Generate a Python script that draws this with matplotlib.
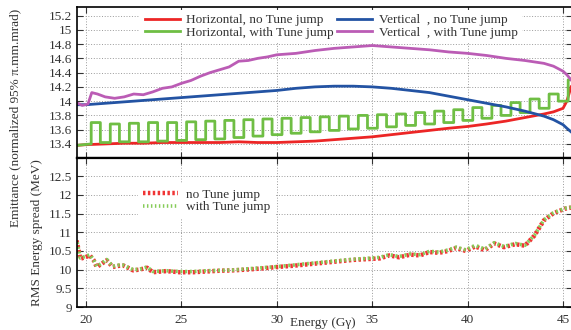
import matplotlib
matplotlib.use("Agg")
import matplotlib.pyplot as plt
from matplotlib.lines import Line2D

plt.rcParams['font.family'] = ['Liberation Serif', 'DejaVu Serif']
plt.rcParams['mathtext.fontset'] = 'stix'

# ---------------- data ----------------
# Horizontal, no tune jump
h_no_E = [19.5, 20, 21, 22, 23, 24, 25, 26, 27, 28, 29, 30, 31, 32, 33, 34, 35, 36,
          37, 38, 39, 40, 41, 42, 43, 44, 44.5, 45, 45.2, 45.42]
h_no_v = [13.38, 13.39, 13.40, 13.41, 13.41, 13.42, 13.42, 13.42, 13.42, 13.43, 13.42,
          13.42, 13.43, 13.44, 13.46, 13.48, 13.50, 13.53, 13.56, 13.59, 13.62, 13.645,
          13.68, 13.72, 13.77, 13.82, 13.85, 13.90, 14.00, 14.20]

# Vertical, no tune jump
v_no_E = [19.5, 20, 21, 22, 23, 24, 25, 26, 27, 28, 29, 30, 31, 32, 33, 34, 35, 36,
          37, 38, 39, 40, 41, 42, 43, 44, 44.5, 45, 45.2, 45.42]
v_no_v = [13.95, 13.95, 13.97, 13.99, 14.01, 14.03, 14.05, 14.07, 14.09, 14.11, 14.13,
          14.15, 14.18, 14.20, 14.21, 14.21, 14.20, 14.18, 14.15, 14.12, 14.07, 14.02,
          13.97, 13.92, 13.86, 13.79, 13.74, 13.67, 13.62, 13.57]

# Vertical, with tune jump
v_tj_E = [19.5, 19.8, 20.1, 20.3, 20.6, 21, 21.5, 22, 22.5, 23, 23.5, 24, 24.5, 25, 25.5,
          26, 26.5, 27, 27.5, 28, 28.5, 29, 29.5, 30, 31, 32, 33, 34, 35, 36, 37, 38, 39,
          40, 41, 42, 43, 44, 44.5, 45, 45.2, 45.42]
v_tj_v = [13.98, 13.94, 13.96, 14.12, 14.10, 14.06, 14.04, 14.06, 14.10, 14.09, 14.13,
          14.18, 14.20, 14.25, 14.29, 14.35, 14.40, 14.44, 14.48, 14.56, 14.57, 14.60,
          14.62, 14.65, 14.67, 14.71, 14.74, 14.76, 14.78, 14.76, 14.74, 14.72, 14.69,
          14.67, 14.64, 14.60, 14.57, 14.53, 14.49, 14.42, 14.37, 14.30]

# Horizontal, with tune jump: jump-on / jump-off energies and levels
tj_on = [20.27, 21.27, 22.27, 23.27, 24.27, 25.27, 26.27, 27.27, 28.27, 29.27, 30.27,
         31.27, 32.27, 33.27, 34.27, 35.27, 36.27, 37.27, 38.27, 39.27, 40.27, 41.27,
         42.27, 43.27, 44.27, 45.27]
tj_off = [20.75, 21.75, 22.75, 23.75, 24.75, 25.75, 26.75, 27.75, 28.75, 29.75, 30.75,
          31.75, 32.75, 33.75, 34.75, 35.75, 36.75, 37.75, 38.75, 39.75, 40.75, 41.75,
          42.75, 43.75, 44.75, 45.42]
h_tj_low = [13.40, 13.42, 13.43, 13.43, 13.44, 13.45, 13.46, 13.47, 13.49, 13.51, 13.53,
            13.55, 13.57, 13.59, 13.61, 13.62, 13.64, 13.66, 13.68, 13.70, 13.73, 13.76,
            13.80, 13.84, 13.90, 14.00]
h_tj_high = [13.70, 13.68, 13.69, 13.70, 13.70, 13.71, 13.72, 13.73, 13.74, 13.75, 13.76,
             13.77, 13.78, 13.79, 13.80, 13.81, 13.82, 13.84, 13.86, 13.88, 13.91, 13.94,
             13.98, 14.03, 14.10, 14.30]
h_tj_start = (19.5, 13.38)

# RMS energy spread
sp_E = [19.5, 19.6, 19.7, 19.95, 20.2, 20.4, 20.56, 20.8, 21.08, 21.4, 21.7, 21.95, 22.2,
        22.47, 22.8, 23.2, 23.5, 24.2, 24.9, 25.6, 26.3, 27, 27.7, 28.4, 29.2, 30, 30.8,
        31.6, 32.4, 33.2, 34, 34.7, 35.4, 35.9, 36.4, 37, 37.5, 38, 38.5, 39, 39.4, 39.9,
        40.4, 40.9, 41.4, 41.9, 42.5, 43, 43.5, 44, 44.5, 45.1, 45.42]
sp_no = [10.78, 10.55, 10.29, 10.33, 10.38, 10.25, 10.07, 10.15, 10.25, 10.07, 10.10,
         10.11, 10.05, 9.98, 10.00, 10.05, 9.93, 9.96, 9.93, 9.93, 9.95, 9.97, 9.98, 10.00,
         10.03, 10.07, 10.10, 10.14, 10.18, 10.22, 10.26, 10.28, 10.30, 10.38, 10.33,
         10.40, 10.38, 10.47, 10.45, 10.50, 10.58, 10.50, 10.62, 10.52, 10.70, 10.60,
         10.68, 10.64, 10.91, 11.32, 11.51, 11.63, 11.66]
sp_tj = [10.80, 10.56, 10.31, 10.35, 10.40, 10.26, 10.09, 10.16, 10.27, 10.09, 10.12,
         10.12, 10.06, 10.00, 10.01, 10.07, 9.95, 9.97, 9.95, 9.95, 9.97, 9.98, 9.99, 10.02,
         10.05, 10.08, 10.12, 10.16, 10.20, 10.24, 10.28, 10.30, 10.33, 10.40, 10.35,
         10.42, 10.40, 10.49, 10.47, 10.53, 10.60, 10.53, 10.65, 10.55, 10.72, 10.62,
         10.70, 10.65, 10.92, 11.33, 11.52, 11.64, 11.67]

yt_top = [13.4, 13.6, 13.8, 14.0, 14.2, 14.4, 14.6, 14.8, 15.0, 15.2]
yt_bot = [9, 9.5, 10, 10.5, 11, 11.5, 12, 12.5]
xt = [20, 25, 30, 35, 40, 45]

# ---------------- build green step line ----------------
gx = [h_tj_start[0]]
gy = [h_tj_start[1]]
for i in range(len(tj_on)):
    gx += [tj_on[i], tj_on[i], tj_off[i]]
    gy += [h_tj_low[i], h_tj_high[i], h_tj_high[i]]
    if i + 1 < len(tj_on):
        gx.append(tj_off[i])
        gy.append(h_tj_low[i + 1])

# ---------------- figure ----------------
W, H = 571, 330
fig = plt.figure(figsize=(W / 100, H / 100), dpi=100)

def px_box(x0, y0, x1, y1):
    return [x0 / W, 1 - y1 / H, (x1 - x0) / W, (y1 - y0) / H]

ax1 = fig.add_axes(px_box(76.7, 7, 572, 157.5))
ax2 = fig.add_axes(px_box(76.7, 157.5, 572, 307))

xlim = (19.51, 45.47)
c_red, c_blue, c_green, c_mag = '#ec2626', '#2353a3', '#6fbe44', '#bb5cb5'

grid_kw = dict(color='#9a9a9a', linestyle=(0, (1, 1.8)), linewidth=0.7)

for ax in (ax1, ax2):
    ax.set_xlim(*xlim)
    ax.set_xticks(xt)
    ax.grid(True, **grid_kw)
    ax.set_axisbelow(True)
    ax.tick_params(direction='in', top=True, right=True, length=4, width=0.8,
                   labelsize=9.5, colors='#333333', labelcolor='#333333')
    for s in ax.spines.values():
        s.set_linewidth(1.2)
        s.set_color('black')

ax1.set_ylim(13.21, 15.32)
ax1.set_yticks(yt_top)
ax1.set_yticklabels(['%g' % v for v in yt_top])
ax1.tick_params(labelbottom=False)
ax1.spines['bottom'].set_linewidth(1.6)

ax2.set_ylim(9, 13)
ax2.set_yticks(yt_bot + [13])
ax2.set_yticklabels(['%g' % v for v in yt_bot] + [''])
ax2.set_xticklabels([str(v) for v in xt])
ax2.tick_params(axis='x', pad=5)
ax2.spines['top'].set_linewidth(1.6)

lw = 2.0
l_red, = ax1.plot(h_no_E, h_no_v, color=c_red, lw=lw)
l_green, = ax1.plot(gx, gy, color=c_green, lw=lw)
l_blue, = ax1.plot(v_no_E, v_no_v, color=c_blue, lw=lw)
l_mag, = ax1.plot(v_tj_E, v_tj_v, color=c_mag, lw=lw)

leg1 = ax1.legend([l_red, l_green, l_blue, l_mag],
                  ['Horizontal, no Tune jump', 'Horizontal, with Tune jump',
                   'Vertical  , no Tune jump', 'Vertical  , with Tune jump'],
                  ncol=2, loc='upper left', bbox_to_anchor=(140 / W, 1 - 9.5 / H),
                  bbox_transform=fig.transFigure, borderaxespad=0, fontsize=9.5,
                  handlelength=2.65, handletextpad=0.5, columnspacing=0.25,
                  labelspacing=0.02, borderpad=0.35, frameon=True, fancybox=False,
                  facecolor='white', edgecolor='none', framealpha=1)
for t in leg1.get_texts():
    t.set_color('#333333')

l_sp1, = ax2.plot(sp_E, sp_no, color='#f03434', lw=3.2, linestyle=(0, (0.55, 0.55)))
l_sp2, = ax2.plot(sp_E, sp_tj, color='#86cc58', lw=2.6, linestyle=(0.55, (0.55, 0.75)))

h1 = Line2D([], [], color='#f03434', lw=3.2, linestyle=(0, (0.55, 0.55)))
h2 = Line2D([], [], color='#86cc58', lw=2.6, linestyle=(0, (0.4, 0.7)))
leg2 = ax2.legend([h1, h2], ['no Tune jump', 'with Tune jump'],
                  loc='upper left', bbox_to_anchor=(138 / W, 1 - 184 / H),
                  bbox_transform=fig.transFigure, borderaxespad=0, fontsize=9.5,
                  handlelength=2.7, handletextpad=0.6, labelspacing=0.02,
                  borderpad=0.35, frameon=True, fancybox=False,
                  facecolor='white', edgecolor='none', framealpha=1)
for t in leg2.get_texts():
    t.set_color('#333333')

fig.text(15 / W, 1 - 118 / H, 'Emittance (normalized 95% \u03c0.mm.mrad)', rotation=90,
         ha='center', va='center', fontsize=9.5, color='#333333')
fig.text(37 / W, 1 - 233 / H, 'RMS Energy spread (MeV)', rotation=90,
         ha='center', va='center', fontsize=9.5, color='#333333')
fig.text(323 / W, 1 - 323 / H, 'Energy (G\u03b3)', ha='center', va='center',
         fontsize=9.5, color='#333333')

fig.savefig('out.png', dpi=100)
